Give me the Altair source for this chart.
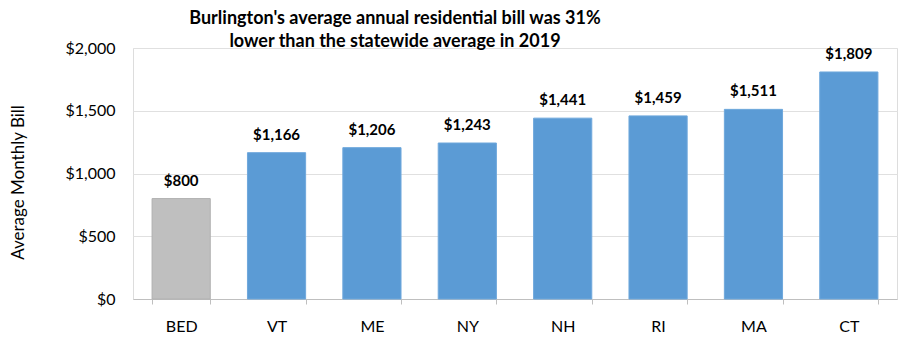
import altair as alt
import pandas as pd

categories = ["BED", "VT", "ME", "NY", "NH", "RI", "MA", "CT"]
values = [800, 1166, 1206, 1243, 1441, 1459, 1511, 1809]
groups = ["BED", "State", "State", "State", "State", "State", "State", "State"]

df = pd.DataFrame({"cat": categories, "val": values, "grp": groups})

FONT = "Lato"

base = alt.Chart(df)

bars = base.mark_bar(strokeWidth=1).encode(
    x=alt.X("cat:N", sort=categories, title=None,
            scale=alt.Scale(paddingInner=0.39, paddingOuter=0.2),
            axis=alt.Axis(labelAngle=0, labelFontSize=16, labelFont=FONT, labelColor="#000000",
                          labelPadding=14, domainColor="#BFBFBF", tickColor="#BFBFBF",
                          tickBand="extent", tickSize=5, grid=False)),
    y=alt.Y("val:Q", title="Average Monthly Bill",
            scale=alt.Scale(domain=[0, 2000]),
            axis=alt.Axis(values=[0, 500, 1000, 1500, 2000], format="$,d",
                          labelFontSize=16, labelFont=FONT, labelColor="#000000",
                          labelPadding=18, tickSize=0, domain=False,
                          gridColor="#E0E0E0", gridWidth=1,
                          titleFontSize=17, titleFont=FONT, titleFontWeight="normal",
                          titleColor="#000000", titleX=-115, titleY=134,
                          titleAngle=-90, titleAlign="center", titleBaseline="middle")),
    color=alt.Color("grp:N", scale=alt.Scale(domain=["BED", "State"], range=["#BFBFBF", "#5B9BD5"]), legend=None),
    stroke=alt.Color("grp:N", scale=alt.Scale(domain=["BED", "State"], range=["#B0B0B0", "#6FA8DC"]), legend=None),
)

labels = base.mark_text(baseline="bottom", dy=-10, fontSize=15, fontWeight="bold", font=FONT, color="#000000").encode(
    x=alt.X("cat:N", sort=categories),
    y=alt.Y("val:Q"),
    text=alt.Text("val:Q", format="$,d"),
)

chart = (bars + labels).properties(
    width=764, height=251,
    title=alt.TitleParams(
        ["Burlington's average annual residential bill was 31%",
         "lower than the statewide average in 2019"],
        fontSize=18, font=FONT, fontWeight="bold", color="#000000",
        anchor="middle", dx=-120, dy=13, offset=2, lineHeight=23),
    autosize=alt.AutoSizeParams(type="none"),
    padding={"left": 133, "top": 48, "right": 3, "bottom": 48},
).configure_view(stroke=None).configure(background="white")

chart.save("out.html", embed_options={"renderer": "svg", "actions": False})
